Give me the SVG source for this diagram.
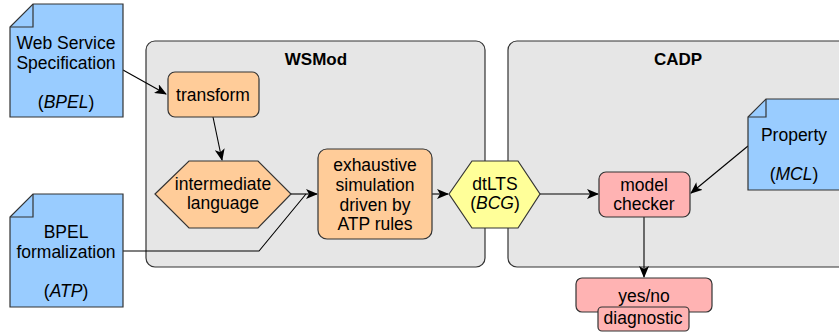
<svg xmlns="http://www.w3.org/2000/svg" width="839" height="336" viewBox="0 0 839 336">
<style>
text{font-family:"Liberation Sans",Arial,sans-serif;font-size:17.5px;fill:#000;text-anchor:middle}
.t{font-weight:bold;font-size:17px}
.cont{fill:#e6e6e6;stroke:#333;stroke-width:1.2}
.doc{fill:#99ccff;stroke:#333;stroke-width:1.2}
.org{fill:#ffcc99;stroke:#333;stroke-width:1.2}
.yel{fill:#ffff99;stroke:#333;stroke-width:1.2}
.pnk{fill:#ffb3b3;stroke:#333;stroke-width:1.2}
.fold{fill:none;stroke:#333;stroke-width:1.2}
.c{fill:none;stroke:#000;stroke-width:1.1}
</style>
<defs>
<marker id="ah" markerWidth="12" markerHeight="10" refX="11" refY="5" orient="auto" markerUnits="userSpaceOnUse">
<path d="M0,0 L12,5 L0,10 L3,5 Z" fill="#000"/>
</marker>
</defs>
<g id="wsmod">
<rect class="cont" x="146" y="41" width="339" height="226" rx="9"/>
<text class="t" x="316" y="65">WSMod</text>
</g>
<g id="cadp">
<rect class="cont" x="508" y="41" width="345" height="226" rx="9"/>
<text class="t" x="678" y="65">CADP</text>
</g>
<g id="connectors">
<line class="c" x1="123" y1="70" x2="166" y2="94" marker-end="url(#ah)"/>
<line class="c" x1="213" y1="117" x2="222" y2="160" marker-end="url(#ah)"/>
<line class="c" x1="291" y1="194" x2="317" y2="194" marker-end="url(#ah)"/>
<polyline class="c" points="123,251 259,251 306,194"/>
<line class="c" x1="432" y1="194" x2="448" y2="194" marker-end="url(#ah)"/>
<line class="c" x1="540" y1="194" x2="598" y2="194" marker-end="url(#ah)"/>
<line class="c" x1="748" y1="146" x2="691" y2="193" marker-end="url(#ah)"/>
<line class="c" x1="644" y1="217" x2="644" y2="277" marker-end="url(#ah)"/>
</g>
<g id="ws-spec">
<path class="doc" d="M33,4 H123 V117 H10 V27 Z"/>
<path class="fold" d="M33,4 V27 H10"/>
<text x="66" y="49">Web Service</text>
<text x="66" y="69">Specification</text>
<text x="66" y="108">(<tspan font-style="italic">BPEL</tspan>)</text>
</g>
<g id="bpel-form">
<path class="doc" d="M33,194 H123 V307 H10 V217 Z"/>
<path class="fold" d="M33,194 V217 H10"/>
<text x="66" y="238">BPEL</text>
<text x="66" y="258">formalization</text>
<text x="66" y="297">(<tspan font-style="italic">ATP</tspan>)</text>
</g>
<g id="transform">
<rect class="org" x="168" y="72" width="91" height="45" rx="7"/>
<text x="213" y="101">transform</text>
</g>
<g id="intermediate">
<path class="org" d="M155,194 L189,161 H258 L291,194 L258,228 H189 Z"/>
<text x="223" y="190">intermediate</text>
<text x="223" y="209">language</text>
</g>
<g id="exhaustive">
<rect class="org" x="318" y="149" width="114" height="90" rx="9"/>
<text x="375" y="171">exhaustive</text>
<text x="375" y="191">simulation</text>
<text x="375" y="211">driven by</text>
<text x="375" y="230">ATP rules</text>
</g>
<g id="dtlts">
<path class="yel" d="M449,194 L472,161 H518 L540,194 L518,228 H472 Z"/>
<text x="495" y="190">dtLTS</text>
<text x="495" y="209">(<tspan font-style="italic">BCG</tspan>)</text>
</g>
<g id="model-checker">
<rect class="pnk" x="599" y="172" width="91" height="45" rx="7"/>
<text x="644" y="191">model</text>
<text x="644" y="210">checker</text>
</g>
<g id="property">
<path class="doc" d="M766,99 H845 V190 H748 V117 Z"/>
<path class="fold" d="M766,99 V117 H748"/>
<text x="794" y="141">Property</text>
<text x="794" y="180">(<tspan font-style="italic">MCL</tspan>)</text>
</g>
<g id="result">
<rect class="pnk" x="576" y="278" width="136" height="34" rx="6"/>
<text x="644" y="302">yes/no</text>
<rect class="pnk" x="598" y="307" width="91" height="24" rx="4"/>
<text x="643" y="324">diagnostic</text>
</g>
</svg>
